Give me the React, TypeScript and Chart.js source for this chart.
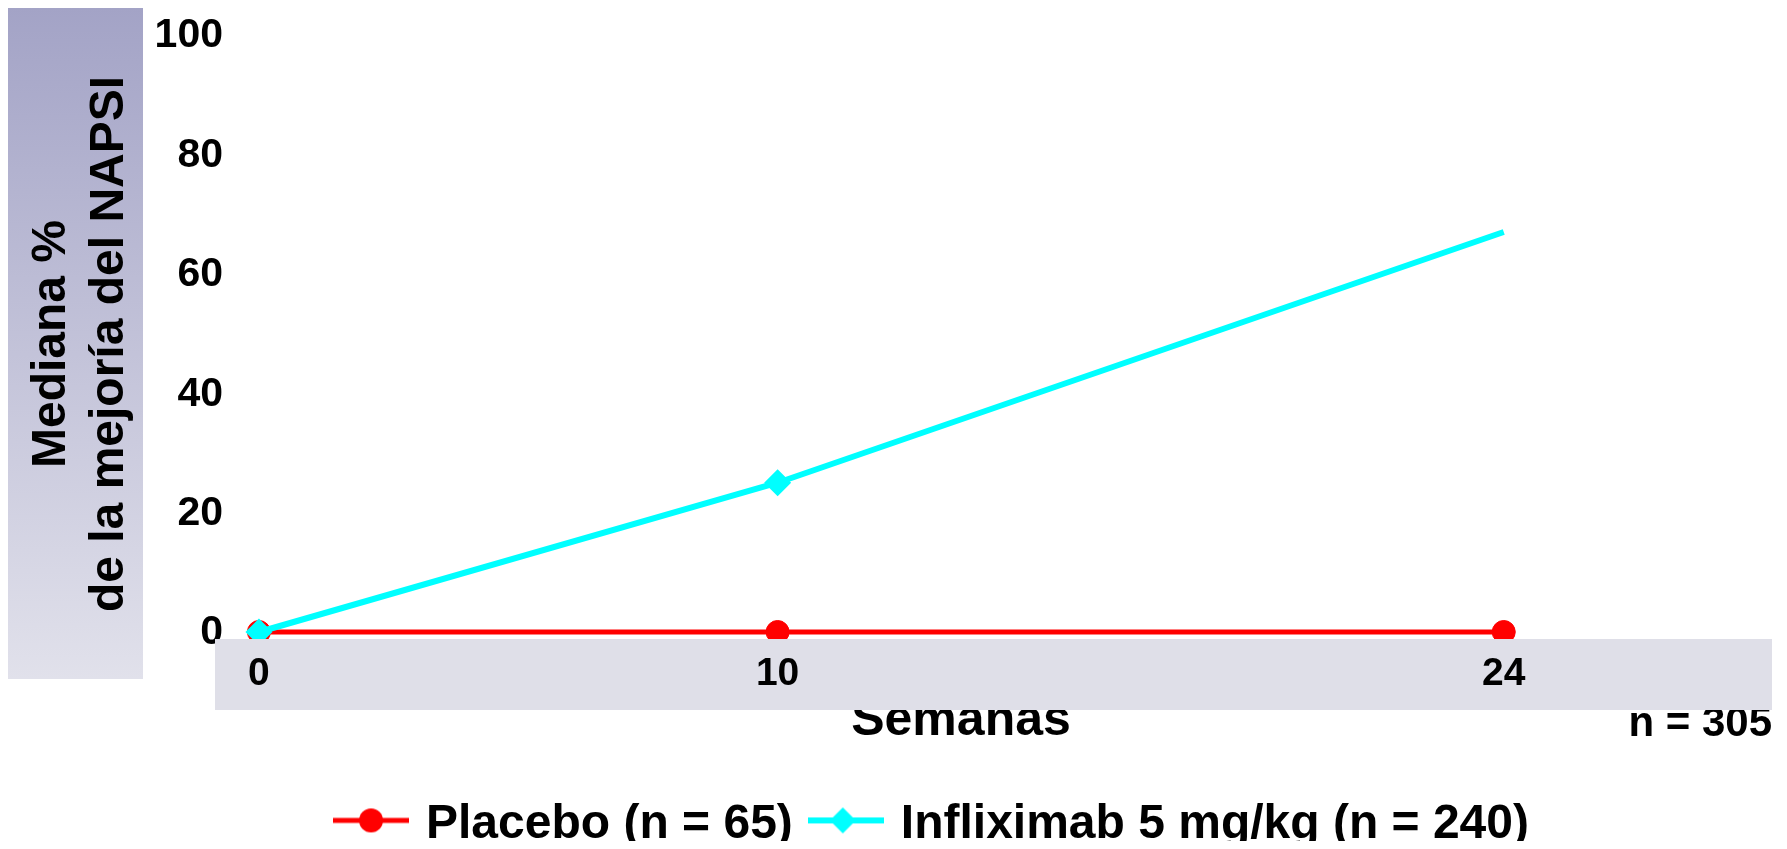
import React, { useEffect, useRef } from "react";
import { Chart, registerables } from "chart.js";

Chart.register(...registerables);

// ---- data ----
const weeks = [0, 10, 24];
const placeboValues = [0, 0, 0];
const infliximabValues = [0, 25, 67];
const infliximabMarkerRadius = [13.5, 13.5, 0];
const xTickValues = [0, 10, 24];
const yTickStep = 20;
const yMin = 0;
const yMax = 100;
const seriesLabels = ["Placebo (n = 65)", "Infliximab 5 mg/kg (n = 240)"];
const yTitleLines = ["Mediana %", "de la mejoría del NAPSI"];
const xTitleText = "Semanas";
const noteText = "n = 305";

// ---- styles ----
const FONT = "'Liberation Sans', Arial, Helvetica, sans-serif";
const RED = "#ff0000";
const CYAN = "#00ffff";
const BAND = "#dfdfe8";

function makeLegendIcon(kind: "circle" | "diamond"): HTMLCanvasElement {
  const c = document.createElement("canvas");
  c.width = 76;
  c.height = 40;
  const g = c.getContext("2d")!;
  const cy = 16;
  const color = kind === "circle" ? RED : CYAN;
  g.strokeStyle = color;
  g.fillStyle = color;
  g.lineWidth = kind === "circle" ? 5 : 6;
  g.beginPath();
  g.moveTo(0, cy);
  g.lineTo(76, cy);
  g.stroke();
  g.beginPath();
  if (kind === "circle") {
    g.arc(38, cy, 12, 0, Math.PI * 2);
  } else {
    g.moveTo(35, cy - 13);
    g.lineTo(48, cy);
    g.lineTo(35, cy + 13);
    g.lineTo(22, cy);
    g.closePath();
  }
  g.fill();
  return c;
}

const decorPlugin = {
  id: "decor",
  beforeDraw(chart: any) {
    const ctx = chart.ctx;
    ctx.save();
    const grad = ctx.createLinearGradient(0, 0, 0, 671);
    grad.addColorStop(0, "#a3a3c6");
    grad.addColorStop(1, "#e1e1eb");
    ctx.fillStyle = grad;
    ctx.fillRect(0, 0, 135, 671);
    // y-axis title (two rotated lines)
    ctx.fillStyle = "#000";
    ctx.font = `bold 48px ${FONT}`;
    ctx.textAlign = "center";
    ctx.textBaseline = "alphabetic";
    const baselines = [57, 115];
    yTitleLines.forEach((line, i) => {
      ctx.save();
      ctx.translate(baselines[i], 336);
      ctx.rotate(-Math.PI / 2);
      ctx.fillText(line, 0, 0);
      ctx.restore();
    });
    ctx.restore();
  },
  afterDatasetsDraw(chart: any) {
    const ctx = chart.ctx;
    const area = chart.chartArea;
    ctx.save();
    ctx.fillStyle = "#000";
    ctx.textBaseline = "alphabetic";
    ctx.font = `bold 50px ${FONT}`;
    ctx.textAlign = "center";
    ctx.fillText(xTitleText, 953, area.bottom + 103);
    ctx.font = `bold 42px ${FONT}`;
    ctx.textAlign = "right";
    ctx.fillText(noteText, 1764, area.bottom + 104);
    ctx.fillStyle = BAND;
    ctx.fillRect(area.left - 18, area.bottom + 7, 1764 - (area.left - 18), 71);
    ctx.restore();
  },
};

export default function App() {
  const ref = useRef<HTMLCanvasElement>(null);

  useEffect(() => {
    if (!ref.current) return;
    Chart.defaults.font.family = FONT;
    const icons = [makeLegendIcon("circle"), makeLegendIcon("diamond")];

    const chart = new Chart(ref.current, {
      type: "line",
      data: {
        datasets: [
          {
            label: seriesLabels[0],
            data: weeks.map((w, i) => ({ x: w, y: placeboValues[i] })),
            borderColor: RED,
            backgroundColor: RED,
            borderWidth: 5,
            pointStyle: "circle",
            pointRadius: 11.5,
            pointBorderWidth: 1,
            pointBackgroundColor: RED,
            pointBorderColor: RED,
            order: 1,
            clip: false,
          },
          {
            label: seriesLabels[1],
            data: weeks.map((w, i) => ({ x: w, y: infliximabValues[i] })),
            borderColor: CYAN,
            backgroundColor: CYAN,
            borderWidth: 6,
            pointStyle: "rectRot",
            pointRadius: infliximabMarkerRadius,
            pointBorderWidth: 0,
            pointBackgroundColor: CYAN,
            order: 0,
            clip: false,
          },
        ],
      } as any,
      options: {
        responsive: false,
        animation: false,
        events: [],
        layout: { padding: { top: 27, left: 0, right: 143, bottom: 1.6 } },
        scales: {
          x: {
            type: "linear",
            min: -0.5,
            max: 26.55,
            afterBuildTicks: (s: any) => {
              s.ticks = xTickValues.map((v) => ({ value: v }));
            },
            afterFit: (s: any) => {
              s.height = 146.4;
            },
            grid: { display: false, drawTicks: false },
            border: { display: false },
            ticks: {
              z: 1,
              padding: 18.6,
              color: "#000",
              autoSkip: false,
              maxRotation: 0,
              font: { size: 39, weight: "bold" },
            },
            title: { display: false },
          },
          y: {
            min: yMin,
            max: yMax,
            afterFit: (s: any) => {
              s.width = 225;
            },
            grid: { display: false, drawTicks: false },
            border: { display: false },
            ticks: {
              stepSize: yTickStep,
              padding: 10,
              labelOffset: 1,
              color: "#000",
              font: { size: 41, weight: "bold", lineHeight: 0.8 },
            },
            title: { display: false },
          },
        },
        plugins: {
          tooltip: { enabled: false },
          legend: {
            position: "bottom",
            fullSize: false,
            labels: {
              usePointStyle: true,
              pointStyleWidth: 62,
              padding: 22,
              color: "#000",
              font: { size: 48, weight: "bold" },
              sort: (a: any, b: any) => a.datasetIndex - b.datasetIndex,
              generateLabels: (c: any) =>
                (Chart.defaults.plugins.legend.labels as any)
                  .generateLabels(c)
                  .map((item: any) => ({ ...item, pointStyle: icons[item.datasetIndex] })),
            },
          },
        },
      } as any,
      plugins: [decorPlugin],
    });

    return () => chart.destroy();
  }, []);

  return (
    <div style={{ width: 1771, height: 841, overflow: "hidden", marginBottom: -8 }}>
      <canvas ref={ref} width={1771} height={852} style={{ display: "block" }} />
    </div>
  );
}
